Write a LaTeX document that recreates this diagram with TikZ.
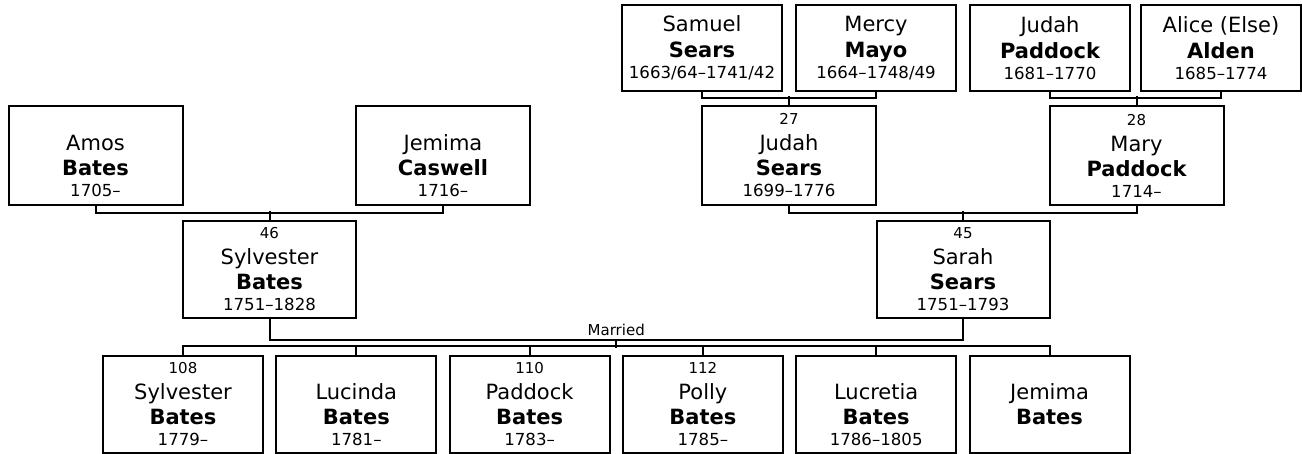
\documentclass[tikz,border=0pt]{standalone}
\usepackage{fontspec}
\setmainfont{DejaVu Sans}
\newcommand\gnum{\fontsize{7.5}{9}\selectfont}
\newcommand\gdate{\fontsize{8.3}{10}\selectfont}
\begin{document}
\begin{tikzpicture}[x=0.5pt, y=-0.5pt, line width=1pt,
    person/.style={draw, align=center, inner sep=0pt,
        font=\fontsize{10.5}{12.5}\selectfont},
    elder/.style={person, minimum width=80pt, minimum height=43pt},
    parent/.style={person, minimum width=87pt, minimum height=49.5pt},
    couple/.style={person, minimum width=86.5pt, minimum height=48.5pt},
    kid/.style={person, minimum width=80pt, minimum height=48.5pt}]

    \useasboundingbox (0,0) rectangle (1302,454);

    % great-grandparents
    \node[elder] (samuel) at (702,48) {Samuel\\[0.5pt]{\bfseries Sears}\\[-2pt]{\gdate 1663/64--1741/42}};
    \node[elder] (mercy) at (876,48) {Mercy\\[0.5pt]{\bfseries Mayo}\\[-2pt]{\gdate 1664--1748/49}};
    \node[elder] (judahp) at (1050,48) {Judah\\[0.5pt]{\bfseries Paddock}\\[-2pt]{\gdate 1681--1770}};
    \node[elder] (alice) at (1221,48) {Alice (Else)\\[0.5pt]{\bfseries Alden}\\[-2pt]{\gdate 1685--1774}};

    % grandparents
    \node[parent] (amos) at (95.5,155.5) {{\gnum\phantom{0}}\\[0.5pt]Amos\\{\bfseries Bates}\\[-2pt]{\gdate 1705--}};
    \node[parent] (jemimac) at (443,155.5) {{\gnum\phantom{0}}\\[0.5pt]Jemima\\{\bfseries Caswell}\\[-2pt]{\gdate 1716--}};
    \node[parent] (judahs) at (789,155.5) {{\gnum 27}\\[0.5pt]Judah\\{\bfseries Sears}\\[-2pt]{\gdate 1699--1776}};
    \node[parent] (mary) at (1136.5,155.5) {{\gnum 28}\\[0.5pt]Mary\\{\bfseries Paddock}\\[-2pt]{\gdate 1714--}};

    % parents
    \node[couple] (sylvester) at (269.5,269.5) {{\gnum 46}\\[0.5pt]Sylvester\\{\bfseries Bates}\\[-2pt]{\gdate 1751--1828}};
    \node[couple] (sarah) at (963,269.5) {{\gnum 45}\\[0.5pt]Sarah\\{\bfseries Sears}\\[-2pt]{\gdate 1751--1793}};

    % children
    \node[kid] (sylvesterjr) at (183,404.5) {{\gnum 108}\\[0.5pt]Sylvester\\{\bfseries Bates}\\[-2pt]{\gdate 1779--}};
    \node[kid] (lucinda) at (356.3,404.5) {{\gnum\phantom{0}}\\[0.5pt]Lucinda\\{\bfseries Bates}\\[-2pt]{\gdate 1781--}};
    \node[kid] (paddock) at (529.6,404.5) {{\gnum 110}\\[0.5pt]Paddock\\{\bfseries Bates}\\[-2pt]{\gdate 1783--}};
    \node[kid] (polly) at (702.9,404.5) {{\gnum 112}\\[0.5pt]Polly\\{\bfseries Bates}\\[-2pt]{\gdate 1785--}};
    \node[kid] (lucretia) at (876.2,404.5) {{\gnum\phantom{0}}\\[0.5pt]Lucretia\\{\bfseries Bates}\\[-2pt]{\gdate 1786--1805}};
    \node[kid] (jemimab) at (1049.5,404.5) {{\gnum\phantom{0}}\\[0.5pt]Jemima\\{\bfseries Bates}\\[-2pt]{\gdate\phantom{0}}};

    % connectors
    \draw (samuel.south) -- ++(0,6) -| (mercy.south);
    \draw (judahs.north) -- ++(0,-9);
    \draw (judahp.south) -- ++(0,6) -| (alice.south);
    \draw (mary.north) -- ++(0,-9);
    \draw (amos.south) -- ++(0,7) -| (jemimac.south);
    \draw (sylvester.north) -- ++(0,-9);
    \draw (judahs.south) -- ++(0,7) -| (mary.south);
    \draw (sarah.north) -- ++(0,-9);
    \draw (sylvester.south) -- ++(0,21) -| (sarah.south)
        node[pos=0.25, above=1.5pt, inner sep=0pt, font=\gnum] (married) {Married}
        coordinate[pos=0.25] (wed);
    \draw (wed) -- ++(0,8);
    \draw (sylvesterjr.north) -- ++(0,-9) -| (jemimab.north);
    \foreach \kid in {lucinda, paddock, polly, lucretia}
        \draw (\kid.north) -- ++(0,-9);

\end{tikzpicture}
\end{document}
